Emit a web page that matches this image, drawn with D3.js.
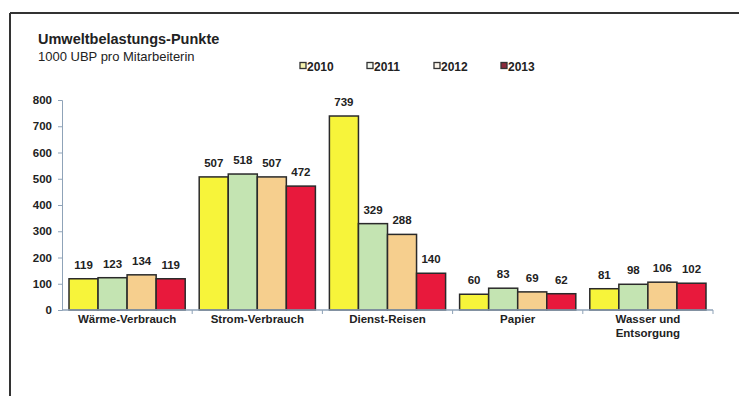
<!DOCTYPE html>
<meta charset="utf-8">
<script src="https://cdn.jsdelivr.net/npm/d3@7"></script>
<style>
  body { margin: 0; background: #fff; }
  text { font-family: "Liberation Sans", Arial, sans-serif; }
</style>
<div id="my_dataviz"></div>
<script>

// data
var categories = ["Wärme-Verbrauch", "Strom-Verbrauch", "Dienst-Reisen", "Papier", "Wasser und|Entsorgung"];
var years = ["2010", "2011", "2012", "2013"];
var v2010 = [119, 507, 739, 60, 81];
var v2011 = [123, 518, 329, 83, 98];
var v2012 = [134, 507, 288, 69, 106];
var v2013 = [119, 472, 140, 62, 102];
var yTicks = [0, 100, 200, 300, 400, 500, 600, 700, 800];

var series = [v2010, v2011, v2012, v2013];
var colors = ["#f7f43a", "#c4e4b2", "#f6cf8e", "#e8193c"];
var legendFill = ["#f6f3b0", "#f4f8f0", "#fbf4ea", "#8a2a3a"];

var W = 739, H = 396;
var margin = {top: 100, right: 26, bottom: 86, left: 62},
  width = W - margin.left - margin.right,
  height = H - margin.top - margin.bottom;

var svg = d3.select("#my_dataviz")
  .append("svg")
    .attr("width", W)
    .attr("height", H);

// scanned frame (top and left edges)
svg.append("line").attr("x1", 10).attr("x2", W).attr("y1", 13).attr("y2", 13)
  .style("stroke", "#333").style("stroke-width", 2);
svg.append("line").attr("x1", 10).attr("x2", 10).attr("y1", 13).attr("y2", H)
  .style("stroke", "#333").style("stroke-width", 2);

// titles
svg.append("text").attr("x", 38).attr("y", 44)
  .style("font-weight", "bold").style("font-size", "14.5px").style("fill", "#222")
  .text("Umweltbelastungs-Punkte");
svg.append("text").attr("x", 38).attr("y", 61)
  .style("font-size", "13px").style("fill", "#222")
  .text("1000 UBP pro Mitarbeiterin");

// legend
var legend = svg.append("g").attr("transform", "translate(300,66)");
years.forEach(function(y, i) {
  var g = legend.append("g").attr("transform", "translate(" + (i * 67) + ",0)");
  g.append("rect").attr("x", 0).attr("y", -3.5).attr("width", 6).attr("height", 6)
    .style("fill", legendFill[i]).style("stroke", "#333").style("stroke-width", 1.3);
  g.append("text").attr("x", 7).attr("y", 4.5)
    .style("font-weight", "bold").style("font-size", "12px").style("fill", "#222")
    .text(y);
});

var chart = svg.append("g")
  .attr("transform", "translate(" + margin.left + "," + margin.top + ")");

var xScale = d3.scaleBand().domain(categories).range([0, width]).paddingInner(0).paddingOuter(0);
var xInner = d3.scaleBand().domain(years).range([7, xScale.bandwidth() - 7]).padding(0);
var yScale = d3.scaleLinear().domain([0, 800]).range([height, 0]);

// y axis
var yAxis = chart.append("g")
  .call(d3.axisLeft(yScale).tickValues(yTicks).tickSize(4).tickPadding(6));
yAxis.select(".domain").style("stroke", "#8fa3b8");
yAxis.selectAll(".tick line").style("stroke", "#8fa3b8");
yAxis.selectAll("text")
  .style("font-weight", "bold").style("font-size", "11.5px").style("fill", "#222")
  .style("font-family", "Liberation Sans, Arial, sans-serif");

// bars
series.forEach(function(vals, s) {
  chart.selectAll(null)
    .data(categories)
    .enter()
    .append("rect")
      .attr("x", function(d) { return xScale(d) + xInner(years[s]); })
      .attr("y", function(d, i) { return yScale(vals[i]); })
      .attr("width", xInner.bandwidth())
      .attr("height", function(d, i) { return height - yScale(vals[i]); })
      .style("fill", colors[s])
      .style("stroke", "#2a2a2a")
      .style("stroke-width", 1.5);

  chart.selectAll(null)
    .data(categories)
    .enter()
    .append("text")
      .attr("x", function(d) { return xScale(d) + xInner(years[s]) + xInner.bandwidth() / 2; })
      .attr("y", function(d, i) { return yScale(vals[i]) - 10; })
      .style("text-anchor", "middle")
      .style("font-weight", "bold").style("font-size", "11.5px").style("fill", "#222")
      .text(function(d, i) { return vals[i]; });
});

// x axis
var xAxis = chart.append("g")
  .attr("transform", "translate(0," + height + ")");
xAxis.append("line").attr("x1", 0).attr("x2", width)
  .style("stroke", "#8fa3b8").style("stroke-width", 1.5);
xAxis.selectAll(null)
  .data(categories)
  .enter()
  .append("line")
    .attr("x1", function(d) { return xScale(d) + xScale.bandwidth(); })
    .attr("x2", function(d) { return xScale(d) + xScale.bandwidth(); })
    .attr("y1", 0).attr("y2", 4)
    .style("stroke", "#8fa3b8");
xAxis.selectAll(null)
  .data(categories)
  .enter()
  .append("text")
    .attr("x", function(d) { return xScale(d) + xScale.bandwidth() / 2; })
    .attr("y", 13)
    .style("text-anchor", "middle")
    .style("font-weight", "bold").style("font-size", "11.5px").style("fill", "#222")
    .each(function(d) {
      var lines = d.split("|");
      var t = d3.select(this);
      lines.forEach(function(l, i) {
        t.append("tspan").attr("x", xScale(d) + xScale.bandwidth() / 2)
          .attr("dy", i == 0 ? 0 : 14).text(l);
      });
    });

</script>
